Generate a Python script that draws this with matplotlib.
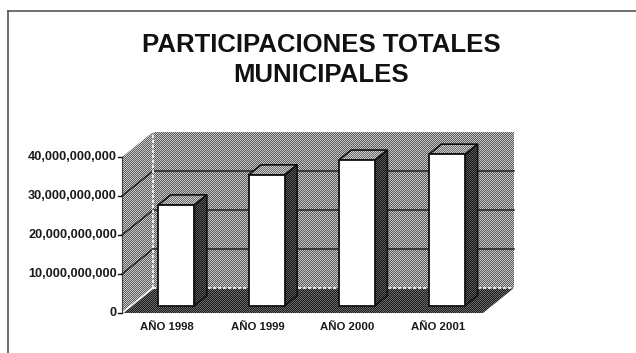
import numpy as np
import matplotlib
matplotlib.use("Agg")
import matplotlib.pyplot as plt
from matplotlib.patches import Polygon
from matplotlib.lines import Line2D

# ---- data ----
years = ["AÑO 1998", "AÑO 1999", "AÑO 2000", "AÑO 2001"]
values = [25.8e9, 33.5e9, 37.3e9, 38.8e9]
ticks = [0, 10e9, 20e9, 30e9, 40e9]
tick_labels = ["0", "10,000,000,000", "20,000,000,000", "30,000,000,000", "40,000,000,000"]
title = "PARTICIPACIONES TOTALES\nMUNICIPALES"

# ---- figure / layout ----
W, H = 636, 353
fig = plt.figure(figsize=(W / 100, H / 100), dpi=100)
fig.patch.set_facecolor("white")
ax = fig.add_axes([0, 0, 1, 1])
ax.axis("off")

X0PX, CATPX = 122, 90.25          # front-left corner and width of one category (px)
Y0PX, PX_PER_UNIT = 313, 156 / 40e9  # floor line and vertical scale (px)
xlim = (-X0PX / CATPX, (W - X0PX) / CATPX)
ylim = (-(H - Y0PX) / PX_PER_UNIT, Y0PX / PX_PER_UNIT)

DX = 31 / CATPX            # oblique depth shift, x
DY = 25 / PX_PER_UNIT      # oblique depth shift, y
ncat = len(years)
ymax = ticks[-1]
BAR_W = 0.4
D0, D1 = 0.3, 0.7          # bar depth range


def P(x, y, d):
    return (x + d * DX, y + d * DY)


ii, jj = np.indices((H, W))
checker = ((ii + jj) % 2).astype(bool)


def hexrgb(c):
    c = c.lstrip("#")
    return np.array([int(c[k:k + 2], 16) for k in (0, 2, 4)], dtype=float) / 255


def dithered(pts, c1, c2, z):
    img = np.where(checker[..., None], hexrgb(c1), hexrgb(c2))
    clip = Polygon(pts, closed=True, transform=ax.transData)
    im = ax.imshow(img, extent=(xlim[0], xlim[1], ylim[0], ylim[1]), origin="upper",
                   interpolation="nearest", aspect="auto", zorder=z)
    im.set_clip_path(clip)


def outline(pts, z, lw=1.2, color="#111111"):
    ax.add_patch(Polygon(pts, closed=True, facecolor="none", edgecolor=color,
                         lw=lw, zorder=z, joinstyle="miter"))


# back wall
back = [P(0, 0, 1), P(ncat, 0, 1), P(ncat, ymax, 1), P(0, ymax, 1)]
dithered(back, "#5a5a5a", "#c6c6c6", 1)
# left wall
left = [P(0, 0, 0), P(0, 0, 1), P(0, ymax, 1), P(0, ymax, 0)]
dithered(left, "#5c5c5c", "#cacaca", 1)
# floor
floor = [P(0, 0, 0), P(ncat, 0, 0), P(ncat, 0, 1), P(0, 0, 1)]
dithered(floor, "#1c1c1c", "#6a6a6a", 2)

# gridlines on walls
for t in ticks[1:-1]:
    ax.plot(*zip(P(0, t, 1), P(ncat, t, 1)), color="#222222", lw=1.1, zorder=3)
    ax.plot(*zip(P(0, t, 0), P(0, t, 1)), color="#222222", lw=1.1, zorder=3)

# light edges between walls and floor
ax.plot(*zip(P(0, 0, 1), P(0, ymax, 1)), color="white", lw=1.2, ls=(0, (2, 1)), zorder=3)
ax.plot(*zip(P(0, 0, 1), P(ncat, 0, 1)), color="white", lw=1.2, ls=(0, (2, 1)), zorder=3)
ax.plot(*zip(P(0, 0, 0), P(0, 0, 1)), color="white", lw=1.2, zorder=3)
ax.plot(*zip(P(0, 0, 0), P(0, ymax, 0)), color="#444444", lw=0.8, zorder=3)

# value axis ticks and labels
for t, lab in zip(ticks, tick_labels):
    ax.plot([-4 / CATPX, 0], [t, t], color="#111111", lw=1.0, zorder=3)
    ax.annotate(lab, (0, t), xytext=(-5, 0), textcoords="offset pixels",
                ha="right", va="center", fontsize=9.2, family="Liberation Sans",
                fontweight="bold", color="#1a1a1a")

# bars
for i, (lab, v) in enumerate(zip(years, values)):
    cx = i + 0.5
    xl, xr = cx - BAR_W / 2, cx + BAR_W / 2
    z = 10 + i * 3
    side = [P(xr, 0, D0), P(xr, 0, D1), P(xr, v, D1), P(xr, v, D0)]
    top = [P(xl, v, D0), P(xr, v, D0), P(xr, v, D1), P(xl, v, D1)]
    front = [P(xl, 0, D0), P(xr, 0, D0), P(xr, v, D0), P(xl, v, D0)]
    dithered(side, "#161616", "#5a5a5a", z)
    dithered(top, "#6c6c6c", "#cccccc", z)
    outline(side, z + 1)
    outline(top, z + 1)
    ax.add_patch(Polygon(front, closed=True, facecolor="white", edgecolor="#111111",
                         lw=1.3, zorder=z + 2, joinstyle="miter"))
    ax.annotate(lab, (cx, 0), xytext=(0, -14), textcoords="offset pixels",
                ha="center", va="center", fontsize=8.2, family="Liberation Sans",
                fontweight="bold", color="#1a1a1a")

ax.set_xlim(*xlim)
ax.set_ylim(*ylim)

# title
fig.text(321 / W, 1 - 60 / H, title, ha="center", va="center", fontsize=18.5,
         fontweight="bold", family="Liberation Sans", linespacing=1.3, color="#111111")

# frame
fig.add_artist(Line2D([7.5 / W, 1], [1 - 11 / H, 1 - 11 / H], transform=fig.transFigure,
                      color="#555555", lw=1.2))
fig.add_artist(Line2D([7.5 / W, 7.5 / W], [0, 1 - 11 / H], transform=fig.transFigure,
                      color="#555555", lw=1.2))

fig.savefig("out.png", dpi=100, facecolor="white")
